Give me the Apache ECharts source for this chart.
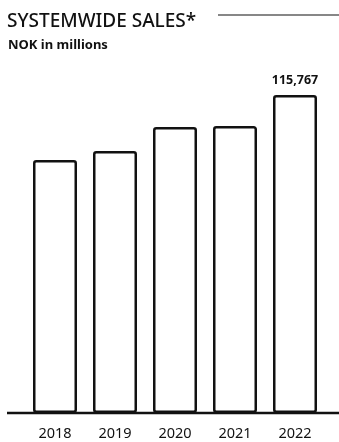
<!DOCTYPE html>
<html>
<head>
<meta charset="utf-8">
<script src="https://cdn.jsdelivr.net/npm/echarts@6/dist/echarts.min.js"></script>
<style>
  html, body { margin: 0; padding: 0; background: #fff; }
  #chart { width: 339px; height: 442px; }
</style>
</head>
<body>
<div id="chart"></div>
<script>
// Systemwide sales, NOK in millions
const years = ['2018', '2019', '2020', '2021', '2022'];
const sales = [92100, 95400, 104100, 104500, 115767];
const labelledYear = '2022';

const FONT = '"Noto Sans", Lato, sans-serif';

const chart = echarts.init(document.getElementById('chart'), null, { renderer: 'canvas' });

chart.setOption({
  backgroundColor: '#ffffff',
  animation: false,
  title: [
    {
      text: 'SYSTEMWIDE SALES*',
      left: 7, top: 12, padding: 0,
      textStyle: { fontFamily: FONT, fontSize: 19, fontWeight: 500, color: '#111' }
    },
    {
      text: 'NOK in millions',
      left: 8, top: 39, padding: 0,
      textStyle: { fontFamily: FONT, fontSize: 13, fontWeight: 'bold', color: '#111' }
    }
  ],
  graphic: [
    { type: 'line', shape: { x1: 218, y1: 15, x2: 339, y2: 15 }, style: { stroke: '#111', lineWidth: 1.2 } },
    { type: 'line', shape: { x1: 7, y1: 413, x2: 339, y2: 413 }, style: { stroke: '#111', lineWidth: 2.5 }, z: 10 }
  ],
  grid: { left: 25, right: 14, top: 83.4, bottom: 29, containLabel: false },
  xAxis: {
    type: 'category',
    data: years,
    axisLine: { show: false },
    axisTick: { show: false },
    axisLabel: { fontFamily: FONT, fontSize: 14.5, color: '#111', margin: 13 }
  },
  yAxis: {
    type: 'value', min: 0, max: 120000,
    show: false, splitLine: { show: false }
  },
  series: [{
    type: 'bar',
    data: sales.map((v, i) => ({
      value: v,
      label: {
        show: years[i] === labelledYear,
        position: 'top',
        distance: 8,
        formatter: p => p.value.toLocaleString('en-US'),
        fontFamily: FONT, fontSize: 12.5, fontWeight: 'bold', color: '#111'
      }
    })),
    barWidth: 44,
    itemStyle: { color: '#ffffff', borderColor: '#111', borderWidth: 2.5, borderRadius: 2 }
  }]
});
</script>
</body>
</html>
